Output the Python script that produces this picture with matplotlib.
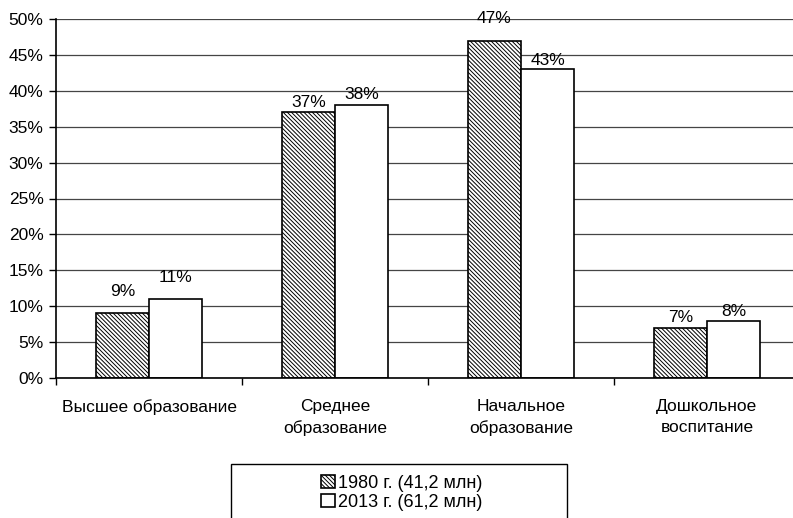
import numpy as np
import matplotlib
matplotlib.use('Agg')
import matplotlib.pyplot as plt
from matplotlib.patches import Rectangle
from matplotlib.ticker import PercentFormatter

plt.rcParams['font.family'] = ['Liberation Sans', 'DejaVu Sans']
plt.rcParams['hatch.linewidth'] = 0.7

categories = ['Высшее образование', 'Среднее\nобразование',
              'Начальное\nобразование', 'Дошкольное\nвоспитание']
share_1980 = [9, 37, 47, 7]
share_2013 = [11, 38, 43, 8]
series_labels = ['1980 г. (41,2 млн)', '2013 г. (61,2 млн)']
# vertical gap (pixels) between each bar top and its value label
gap_1980 = [22, 10, 22, 10]
gap_2013 = [22, 11, 9, 9]

fs = 12.5
fig = plt.figure(figsize=(7.93, 5.18), dpi=100)
ax = fig.add_axes([56 / 793, 1 - 378 / 518, 744 / 793, 359 / 518])

x = np.arange(len(categories))
w = 0.285
b1 = ax.bar(x - w / 2, share_1980, w, facecolor='white', edgecolor='black',
            linewidth=1.2, hatch='\\' * 8, label=series_labels[0], zorder=3)
b2 = ax.bar(x + w / 2, share_2013, w, facecolor='white', edgecolor='black',
            linewidth=1.2, label=series_labels[1], zorder=3)

for bars, vals, gaps in ((b1, share_1980, gap_1980), (b2, share_2013, gap_2013)):
    for rect, v, g in zip(bars, vals, gaps):
        ax.annotate(f'{v}%', (rect.get_x() + rect.get_width() / 2, v),
                    xytext=(0, g), textcoords='offset pixels',
                    ha='center', va='center', fontsize=fs, zorder=4)

ax.set_ylim(0, 50)
ax.set_yticks(range(0, 51, 5))
ax.yaxis.set_major_formatter(PercentFormatter(decimals=0))
ax.set_xlim(-0.5, len(categories) - 0.5)
ax.set_xticks(x)
ax.set_xticklabels(categories, fontsize=fs, linespacing=1.5)
ax.set_xticks(np.arange(-0.5, len(categories), 1), minor=True)
ax.tick_params(axis='x', which='major', length=0, pad=15)
ax.tick_params(axis='x', which='minor', length=5, width=1, direction='out')
ax.tick_params(axis='y', length=5, width=1, direction='out', labelsize=fs, pad=4)

ax.grid(axis='y', color='#454545', linewidth=0.9, zorder=0)
for side in ('top', 'right'):
    ax.spines[side].set_visible(False)
for side in ('left', 'bottom'):
    ax.spines[side].set_linewidth(1.2)
    ax.spines[side].set_zorder(5)

# legend box runs off the bottom edge of the figure
fig.patches.append(Rectangle((231 / 793, -0.1), 336 / 793, 0.1 + (518 - 464) / 518,
                             transform=fig.transFigure, facecolor='white',
                             edgecolor='black', linewidth=1.0, zorder=1))
fig.legend(handles=[b1, b2], labels=series_labels, loc='center',
           bbox_to_anchor=(402 / 793, 1 - 493 / 518), frameon=False, fontsize=13,
           handlelength=0.75, handleheight=0.75, handletextpad=0.2,
           labelspacing=0.1, borderpad=0)

fig.savefig('out.png', dpi=100)
